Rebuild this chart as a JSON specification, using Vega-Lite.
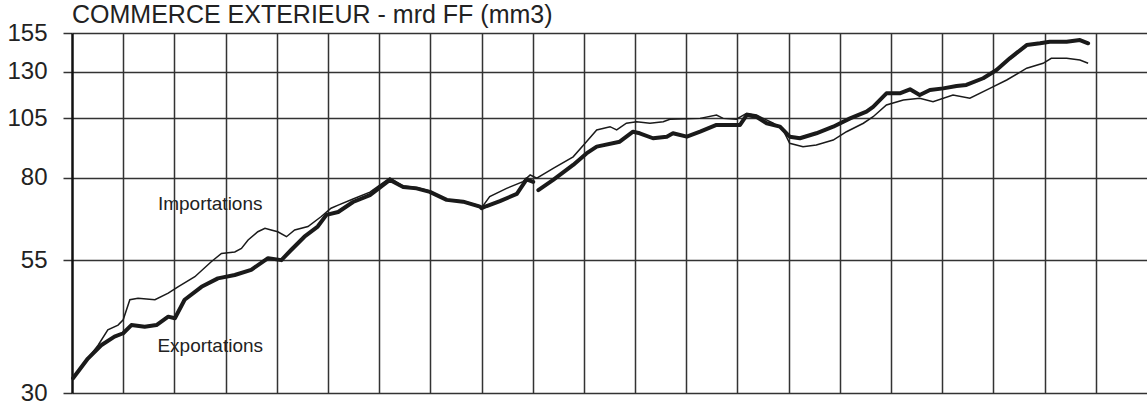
{
  "$schema": "https://vega.github.io/schema/vega-lite/v6.json",
  "width": 1075,
  "height": 360,
  "autosize": "none",
  "padding": {"left": 72, "top": 33, "right": 0, "bottom": 12},
  "background": "white",
  "title": {
    "text": "COMMERCE EXTERIEUR - mrd FF (mm3)",
    "anchor": "start",
    "frame": "group",
    "font": "Liberation Sans",
    "fontSize": 25,
    "fontWeight": "normal",
    "color": "#222222",
    "baseline": "alphabetic",
    "offset": 0,
    "dy": 27
  },
  "config": {
    "view": {"stroke": null},
    "axisY": {
      "grid": true, "gridColor": "#333333", "gridWidth": 1.5, "gridOpacity": 1,
      "domain": true, "domainColor": "#111111", "domainWidth": 2.5,
      "ticks": true, "tickColor": "#333333", "tickSize": 9, "tickWidth": 1.5,
      "labelFont": "Liberation Sans", "labelFontSize": 24, "labelColor": "#222222",
      "labelPadding": 16, "labelOverlap": false, "title": null
    },
    "axisX": {
      "grid": true, "gridColor": "#333333", "gridWidth": 1.5, "gridOpacity": 1,
      "domain": false, "ticks": false, "labels": false, "title": null
    }
  },
  "datasets": {
    "trade": [
      {"t":0.02,"v":32.1,"s":"Exportations","g":1},{"t":0.31,"v":35.1,"s":"Exportations","g":1},{"t":0.57,"v":37.3,"s":"Exportations","g":1},{"t":0.83,"v":38.8,"s":"Exportations","g":1},{"t":1.0,"v":39.4,"s":"Exportations","g":1},{"t":1.16,"v":40.9,"s":"Exportations","g":1},{"t":1.42,"v":40.6,"s":"Exportations","g":1},{"t":1.65,"v":40.9,"s":"Exportations","g":1},{"t":1.88,"v":42.5,"s":"Exportations","g":1},{"t":2.01,"v":42.2,"s":"Exportations","g":1},{"t":2.2,"v":45.9,"s":"Exportations","g":1},{"t":2.53,"v":48.7,"s":"Exportations","g":1},{"t":2.85,"v":50.6,"s":"Exportations","g":1},{"t":3.18,"v":51.4,"s":"Exportations","g":1},{"t":3.5,"v":52.6,"s":"Exportations","g":1},{"t":3.83,"v":55.5,"s":"Exportations","g":1},{"t":4.09,"v":55.0,"s":"Exportations","g":1},{"t":4.28,"v":57.6,"s":"Exportations","g":1},{"t":4.54,"v":61.2,"s":"Exportations","g":1},{"t":4.8,"v":64.1,"s":"Exportations","g":1},{"t":4.97,"v":67.6,"s":"Exportations","g":1},{"t":5.2,"v":68.5,"s":"Exportations","g":1},{"t":5.49,"v":71.7,"s":"Exportations","g":1},{"t":5.82,"v":74.0,"s":"Exportations","g":1},{"t":6.21,"v":79.3,"s":"Exportations","g":1},{"t":6.47,"v":76.8,"s":"Exportations","g":1},{"t":6.73,"v":76.3,"s":"Exportations","g":1},{"t":6.99,"v":75.1,"s":"Exportations","g":1},{"t":7.32,"v":72.4,"s":"Exportations","g":1},{"t":7.64,"v":71.8,"s":"Exportations","g":1},{"t":7.97,"v":70.2,"s":"Exportations","g":1},{"t":8.0,"v":69.7,"s":"Exportations","g":1},{"t":8.1,"v":70.4,"s":"Exportations","g":1},{"t":8.36,"v":72.0,"s":"Exportations","g":1},{"t":8.69,"v":74.4,"s":"Exportations","g":1},{"t":8.88,"v":79.5,"s":"Exportations","g":1},{"t":9.01,"v":78.6,"s":"Exportations","g":1},
      {"t":9.11,"v":75.7,"s":"Exportations","g":2},{"t":9.4,"v":79.3,"s":"Exportations","g":2},{"t":9.79,"v":84.9,"s":"Exportations","g":2},{"t":10.05,"v":89.5,"s":"Exportations","g":2},{"t":10.25,"v":92.3,"s":"Exportations","g":2},{"t":10.7,"v":94.4,"s":"Exportations","g":2},{"t":10.96,"v":98.8,"s":"Exportations","g":2},{"t":11.09,"v":98.1,"s":"Exportations","g":2},{"t":11.35,"v":95.9,"s":"Exportations","g":2},{"t":11.62,"v":96.6,"s":"Exportations","g":2},{"t":11.74,"v":98.1,"s":"Exportations","g":2},{"t":12.01,"v":96.6,"s":"Exportations","g":2},{"t":12.27,"v":98.8,"s":"Exportations","g":2},{"t":12.59,"v":101.9,"s":"Exportations","g":2},{"t":13.05,"v":101.9,"s":"Exportations","g":2},{"t":13.18,"v":106.6,"s":"Exportations","g":2},{"t":13.37,"v":105.8,"s":"Exportations","g":2},{"t":13.57,"v":102.7,"s":"Exportations","g":2},{"t":13.83,"v":101.1,"s":"Exportations","g":2},{"t":14.02,"v":96.6,"s":"Exportations","g":2},{"t":14.22,"v":95.9,"s":"Exportations","g":2},{"t":14.54,"v":98.1,"s":"Exportations","g":2},{"t":14.87,"v":101.1,"s":"Exportations","g":2},{"t":15.2,"v":105.0,"s":"Exportations","g":2},{"t":15.52,"v":108.3,"s":"Exportations","g":2},{"t":15.65,"v":110.7,"s":"Exportations","g":2},{"t":15.91,"v":117.7,"s":"Exportations","g":2},{"t":16.17,"v":117.7,"s":"Exportations","g":2},{"t":16.37,"v":119.9,"s":"Exportations","g":2},{"t":16.56,"v":116.8,"s":"Exportations","g":2},{"t":16.76,"v":119.5,"s":"Exportations","g":2},{"t":17.02,"v":120.4,"s":"Exportations","g":2},{"t":17.28,"v":121.7,"s":"Exportations","g":2},{"t":17.47,"v":122.3,"s":"Exportations","g":2},{"t":17.8,"v":126.1,"s":"Exportations","g":2},{"t":18.06,"v":130.9,"s":"Exportations","g":2},{"t":18.32,"v":138.1,"s":"Exportations","g":2},{"t":18.65,"v":146.7,"s":"Exportations","g":2},{"t":18.91,"v":147.9,"s":"Exportations","g":2},{"t":19.1,"v":149.0,"s":"Exportations","g":2},{"t":19.43,"v":149.0,"s":"Exportations","g":2},{"t":19.69,"v":150.1,"s":"Exportations","g":2},{"t":19.85,"v":147.9,"s":"Exportations","g":2},
      {"t":0.02,"v":32.1,"s":"Importations","g":1},{"t":0.51,"v":37.3,"s":"Importations","g":1},{"t":0.7,"v":40.0,"s":"Importations","g":1},{"t":0.9,"v":40.9,"s":"Importations","g":1},{"t":1.0,"v":41.9,"s":"Importations","g":1},{"t":1.13,"v":45.9,"s":"Importations","g":1},{"t":1.29,"v":46.2,"s":"Importations","g":1},{"t":1.62,"v":45.9,"s":"Importations","g":1},{"t":1.88,"v":47.3,"s":"Importations","g":1},{"t":2.07,"v":48.7,"s":"Importations","g":1},{"t":2.4,"v":51.0,"s":"Importations","g":1},{"t":2.72,"v":54.6,"s":"Importations","g":1},{"t":2.92,"v":56.7,"s":"Importations","g":1},{"t":3.18,"v":57.1,"s":"Importations","g":1},{"t":3.31,"v":58.0,"s":"Importations","g":1},{"t":3.44,"v":60.3,"s":"Importations","g":1},{"t":3.63,"v":62.6,"s":"Importations","g":1},{"t":3.77,"v":63.6,"s":"Importations","g":1},{"t":3.89,"v":63.1,"s":"Importations","g":1},{"t":4.02,"v":62.6,"s":"Importations","g":1},{"t":4.19,"v":61.2,"s":"Importations","g":1},{"t":4.35,"v":63.1,"s":"Importations","g":1},{"t":4.61,"v":64.1,"s":"Importations","g":1},{"t":4.87,"v":67.1,"s":"Importations","g":1},{"t":5.06,"v":69.7,"s":"Importations","g":1},{"t":5.2,"v":70.7,"s":"Importations","g":1},{"t":5.49,"v":72.7,"s":"Importations","g":1},{"t":5.82,"v":75.0,"s":"Importations","g":1},{"t":6.21,"v":80.0,"s":"Importations","g":1},{"t":6.47,"v":77.1,"s":"Importations","g":1},{"t":6.73,"v":76.6,"s":"Importations","g":1},{"t":6.99,"v":75.4,"s":"Importations","g":1},{"t":7.32,"v":72.5,"s":"Importations","g":1},{"t":7.64,"v":72.0,"s":"Importations","g":1},{"t":7.97,"v":70.4,"s":"Importations","g":1},{"t":8.0,"v":69.8,"s":"Importations","g":1},{"t":8.16,"v":73.5,"s":"Importations","g":1},{"t":8.49,"v":76.3,"s":"Importations","g":1},{"t":8.81,"v":78.7,"s":"Importations","g":1},{"t":8.95,"v":81.1,"s":"Importations","g":1},{"t":9.08,"v":79.9,"s":"Importations","g":1},{"t":9.4,"v":83.6,"s":"Importations","g":1},{"t":9.79,"v":88.1,"s":"Importations","g":1},{"t":10.05,"v":94.4,"s":"Importations","g":1},{"t":10.25,"v":99.6,"s":"Importations","g":1},{"t":10.51,"v":101.1,"s":"Importations","g":1},{"t":10.64,"v":99.6,"s":"Importations","g":1},{"t":10.83,"v":102.7,"s":"Importations","g":1},{"t":11.03,"v":103.4,"s":"Importations","g":1},{"t":11.29,"v":102.7,"s":"Importations","g":1},{"t":11.55,"v":103.4,"s":"Importations","g":1},{"t":11.68,"v":104.6,"s":"Importations","g":1},{"t":12.27,"v":105.0,"s":"Importations","g":1},{"t":12.59,"v":106.6,"s":"Importations","g":1},{"t":12.72,"v":105.0,"s":"Importations","g":1},{"t":12.98,"v":104.6,"s":"Importations","g":1},{"t":13.18,"v":107.5,"s":"Importations","g":1},{"t":13.37,"v":106.6,"s":"Importations","g":1},{"t":13.7,"v":102.7,"s":"Importations","g":1},{"t":13.89,"v":99.6,"s":"Importations","g":1},{"t":14.02,"v":93.7,"s":"Importations","g":1},{"t":14.28,"v":92.3,"s":"Importations","g":1},{"t":14.54,"v":93.0,"s":"Importations","g":1},{"t":14.87,"v":95.1,"s":"Importations","g":1},{"t":15.13,"v":98.8,"s":"Importations","g":1},{"t":15.46,"v":102.7,"s":"Importations","g":1},{"t":15.65,"v":105.8,"s":"Importations","g":1},{"t":15.91,"v":111.6,"s":"Importations","g":1},{"t":16.24,"v":114.2,"s":"Importations","g":1},{"t":16.56,"v":115.1,"s":"Importations","g":1},{"t":16.82,"v":113.3,"s":"Importations","g":1},{"t":17.21,"v":116.8,"s":"Importations","g":1},{"t":17.54,"v":115.1,"s":"Importations","g":1},{"t":17.93,"v":120.4,"s":"Importations","g":1},{"t":18.26,"v":125.1,"s":"Importations","g":1},{"t":18.65,"v":132.0,"s":"Importations","g":1},{"t":18.97,"v":135.0,"s":"Importations","g":1},{"t":19.13,"v":138.1,"s":"Importations","g":1},{"t":19.43,"v":138.1,"s":"Importations","g":1},{"t":19.69,"v":137.0,"s":"Importations","g":1},{"t":19.85,"v":135.0,"s":"Importations","g":1}
    ],
    "labels": [
      {"t":2.7,"v":69.0,"label":"Importations"},
      {"t":2.7,"v":36.1,"label":"Exportations"}
    ]
  },
  "layer": [
    {
      "data": {"name": "trade"},
      "transform": [{"filter": "datum.s === 'Importations'"}],
      "mark": {"type": "line", "color": "#1a1a1a", "strokeWidth": 1.5, "interpolate": "linear"},
      "encoding": {
        "x": {"field": "t", "type": "quantitative", "scale": {"domain": [0, 21], "nice": false, "zero": false},
              "axis": {"values": [1,2,3,4,5,6,7,8,9,10,11,12,13,14,15,16,17,18,19,20]}},
        "y": {"field": "v", "type": "quantitative", "scale": {"type": "log", "domain": [30, 155], "nice": false, "zero": false},
              "axis": {"values": [30,55,80,105,130,155], "format": "d"}},
        "detail": {"field": "g"}
      }
    },
    {
      "data": {"name": "trade"},
      "transform": [{"filter": "datum.s === 'Exportations'"}],
      "mark": {"type": "line", "color": "#1a1a1a", "strokeWidth": 4, "interpolate": "linear", "strokeJoin": "round", "strokeCap": "round"},
      "encoding": {
        "x": {"field": "t", "type": "quantitative"},
        "y": {"field": "v", "type": "quantitative"},
        "detail": {"field": "g"}
      }
    },
    {
      "data": {"name": "labels"},
      "mark": {"type": "text", "font": "Liberation Sans", "fontSize": 19, "color": "#222222", "align": "center", "baseline": "alphabetic"},
      "encoding": {
        "x": {"field": "t", "type": "quantitative"},
        "y": {"field": "v", "type": "quantitative"},
        "text": {"field": "label"}
      }
    }
  ]
}
